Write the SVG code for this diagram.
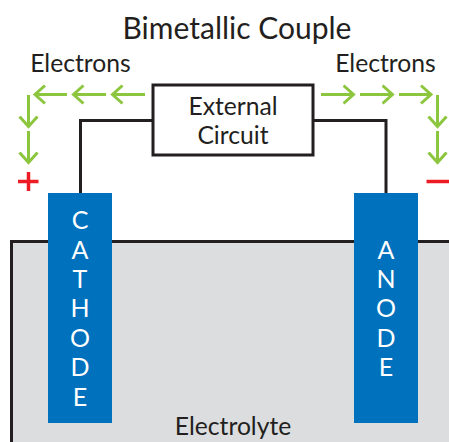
<svg xmlns="http://www.w3.org/2000/svg" width="449" height="442" viewBox="0 0 449 442">
<style>
text{font-family:"Lato","Noto Sans",sans-serif;fill:#231f20}
.l{font-size:24.700px;text-anchor:middle}
.e{font-size:25px;fill:#fff;text-anchor:middle}
.w{fill:none;stroke:#231f20;stroke-width:3}
.g{fill:none;stroke:#8cc63f;stroke-width:3}
</style>
<defs>
<marker id="h" markerUnits="userSpaceOnUse" markerWidth="14" markerHeight="22" refX="11" refY="11" orient="auto">
<path d="M1 2L11 11L1 20" fill="none" stroke="#8cc63f" stroke-width="3"/>
</marker>
</defs>
<g id="electrolyte">
<rect x="11.500" y="241.500" width="440" height="204" fill="#dcddde" stroke="#231f20" stroke-width="3"/>
<text class="l" x="233" y="435">Electrolyte</text>
</g>
<g id="connectors">
<path class="w" d="M152 120.500H80.500V193"/>
<path class="w" d="M314 120.500H386V193"/>
<path class="g" marker-end="url(#h)" d="M145 94.500H112.500"/>
<path class="g" marker-end="url(#h)" d="M106 94.500H73.500"/>
<path class="g" marker-end="url(#h)" d="M67 94.500H35"/>
<path class="g" marker-end="url(#h)" d="M28.500 95V126.500"/>
<path class="g" marker-end="url(#h)" d="M28.500 131V162.500"/>
<path class="g" marker-end="url(#h)" d="M321 94.500H353.500"/>
<path class="g" marker-end="url(#h)" d="M360 94.500H392.500"/>
<path class="g" marker-end="url(#h)" d="M399 94.500H431"/>
<path class="g" marker-end="url(#h)" d="M437.500 95V126.500"/>
<path class="g" marker-end="url(#h)" d="M437.500 131V162.500"/>
</g>
<g id="title"><text x="237" y="39" style="font-size:30px;text-anchor:middle">Bimetallic Couple</text></g>
<g id="electrons-left"><text class="l" x="80.500" y="72">Electrons</text></g>
<g id="electrons-right"><text class="l" x="385.500" y="72">Electrons</text></g>
<g id="external-circuit">
<rect x="153" y="85" width="160" height="70" fill="#fff" stroke="#231f20" stroke-width="3"/>
<text class="l" x="233" y="115">External</text>
<text class="l" x="233" y="144">Circuit</text>
</g>
<g id="plus"><path d="M18 181.500H38.500M28.500 172V191" fill="none" stroke="#ed1c24" stroke-width="3.500"/></g>
<g id="minus"><path d="M426.500 181.500H449" fill="none" stroke="#ed1c24" stroke-width="3.500"/></g>
<g id="cathode">
<rect x="48" y="193" width="64" height="230" fill="#0071bc"/>
<text class="e" x="80" y="229">C</text>
<text class="e" x="80" y="259">A</text>
<text class="e" x="80" y="288">T</text>
<text class="e" x="80" y="317">H</text>
<text class="e" x="80" y="347">O</text>
<text class="e" x="80" y="376">D</text>
<text class="e" x="80" y="406">E</text>
</g>
<g id="anode">
<rect x="354" y="193" width="64" height="230" fill="#0071bc"/>
<text class="e" x="386" y="259">A</text>
<text class="e" x="386" y="288">N</text>
<text class="e" x="386" y="317">O</text>
<text class="e" x="386" y="347">D</text>
<text class="e" x="386" y="376">E</text>
</g>
</svg>
